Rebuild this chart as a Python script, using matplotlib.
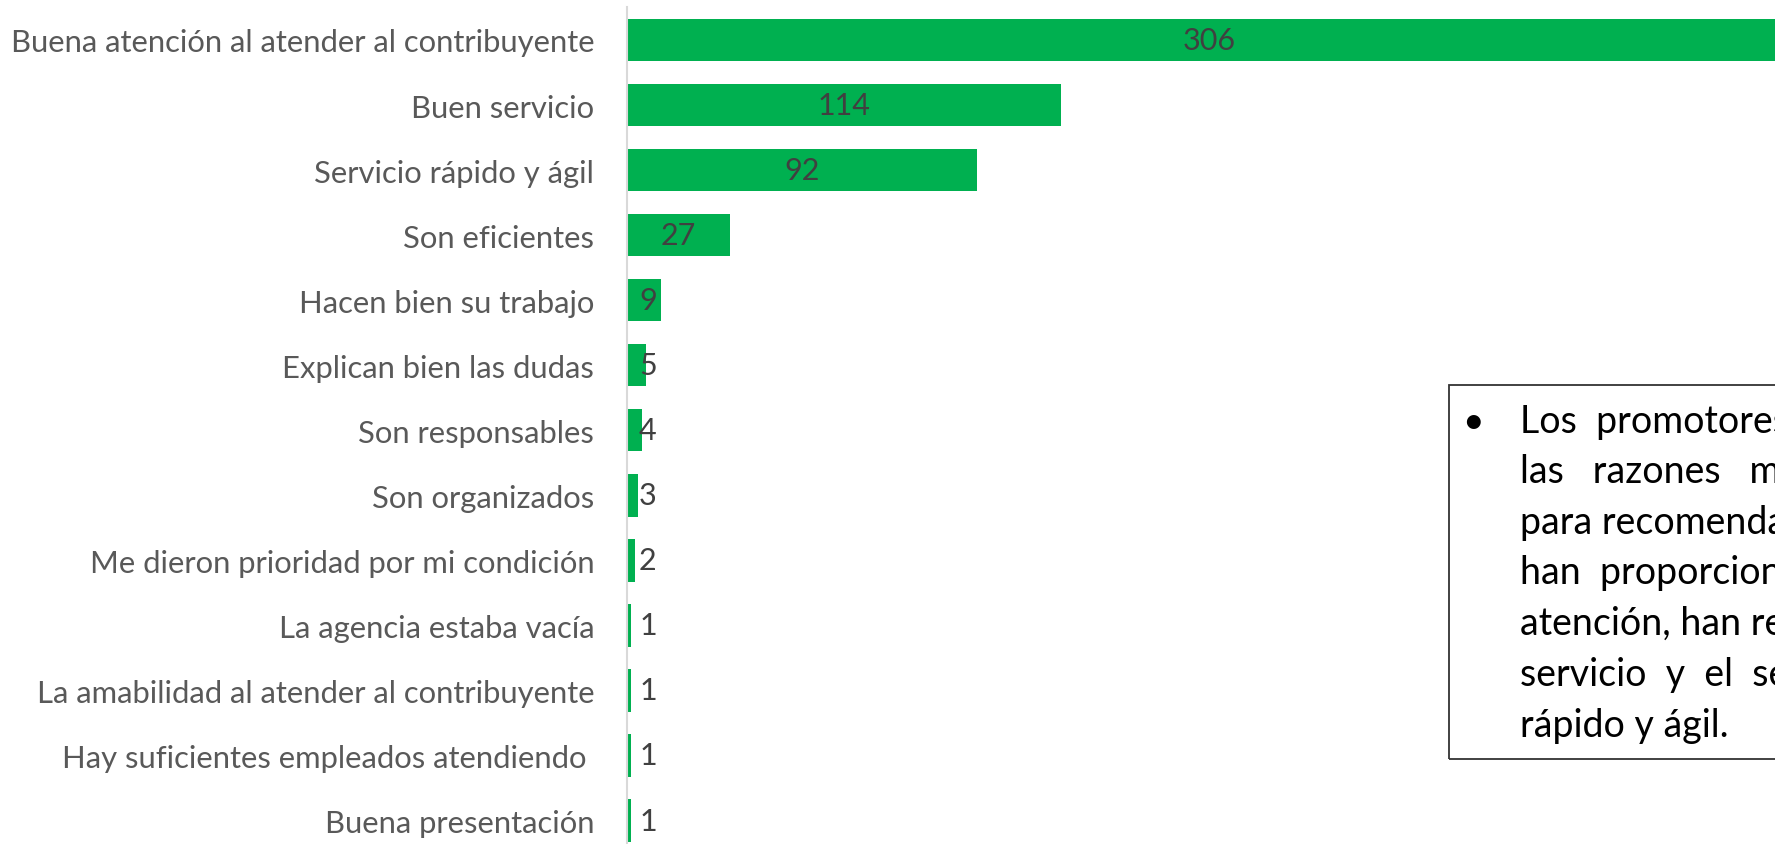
import matplotlib
matplotlib.use('Agg')
import matplotlib.pyplot as plt
from matplotlib.patches import Rectangle

categories = [
    "Buena atención al atender al contribuyente",
    "Buen servicio",
    "Servicio rápido y ágil",
    "Son eficientes",
    "Hacen bien su trabajo",
    "Explican bien las dudas",
    "Son responsables",
    "Son organizados",
    "Me dieron prioridad por mi condición",
    "La agencia estaba vacía",
    "La amabilidad al atender al contribuyente",
    "Hay suficientes empleados atendiendo ",
    "Buena presentación",
]
values = [306, 114, 92, 27, 9, 5, 4, 3, 2, 1, 1, 1, 1]

box_lines = [
    "Los  promotores  mencionan  que",
    "las   razones   más  importantes",
    "para recomendar a la SAT es que",
    "han  proporcionado  una  buena",
    "atención, han recibido un buen",
    "servicio  y  el  servicio  es",
    "rápido y ágil.",
]

plt.rcParams['font.family'] = ['Lato', 'DejaVu Sans']

W, H = 1775, 845
fig = plt.figure(figsize=(W / 100, H / 100), dpi=100)
ax = fig.add_axes([627 / W, 0, 1 - 627 / W, 1 - 8 / H])

pos = list(range(len(categories)))
ax.barh(pos, values, height=0.653, color='#00B050')
ax.set_ylim(12.361, -0.507)
ax.set_xlim(0, 301.7)
ax.set_yticks(pos)
ax.set_yticklabels(categories, fontsize=22.3, color='#595959')
ax.tick_params(axis='y', length=0, pad=23.5)
ax.set_xticks([])
for s in ['top', 'right', 'bottom']:
    ax.spines[s].set_visible(False)
ax.spines['left'].set_color('#d9d9d9')
ax.spines['left'].set_linewidth(1.5)

for i, v in enumerate(values):
    ax.text(max(v / 2, 5.5), i, str(v), ha='center', va='center',
            fontsize=22, color='#404040')

# text box
rect = Rectangle((1449 / W, (H - 760) / H), 0.5, (760 - 386) / H,
                 transform=fig.transFigure, fill=False,
                 edgecolor='#333333', linewidth=1.3)
fig.add_artist(rect)
baselines = [433, 483, 534, 584, 635, 686, 737]
fig.text(1473 / W, 1 - baselines[0] / H, "•", ha='center', va='baseline',
         fontsize=27, color='black')
for line, b in zip(box_lines, baselines):
    fig.text(1520 / W, 1 - b / H, line, ha='left', va='baseline',
             fontsize=27, color='black')

fig.savefig('out.png', dpi=100)
